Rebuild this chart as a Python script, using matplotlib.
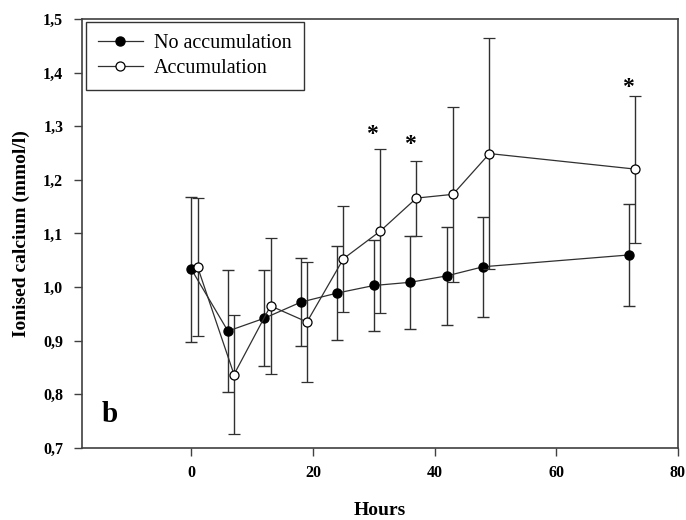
import matplotlib
matplotlib.use("Agg")
import matplotlib.pyplot as plt
from matplotlib.ticker import FuncFormatter

# hours, mean, SD
hours_no = [0, 6, 12, 18, 24, 30, 36, 42, 48, 72]
ca_no = [1.033, 0.918, 0.942, 0.972, 0.989, 1.003, 1.009, 1.021, 1.038, 1.060]
sd_no = [0.135, 0.113, 0.090, 0.082, 0.087, 0.084, 0.087, 0.092, 0.093, 0.095]

hours_acc = [1, 7, 13, 19, 25, 31, 37, 43, 49, 73]
ca_acc = [1.038, 0.837, 0.965, 0.935, 1.053, 1.104, 1.166, 1.173, 1.249, 1.220]
sd_acc = [0.129, 0.111, 0.127, 0.112, 0.099, 0.153, 0.070, 0.163, 0.216, 0.137]

# significance stars
star_x = [29.6, 35.9, 71.8]
star_y = [1.285, 1.266, 1.373]

plt.rcParams["font.family"] = ["Liberation Serif", "DejaVu Serif"]

fig = plt.figure(figsize=(6.86, 5.2), dpi=100)
ax = fig.add_axes([0.1195, 0.1385, 0.8688, 0.825])

lc = "#303030"
ax.errorbar(hours_no, ca_no, yerr=sd_no, color=lc, lw=0.9, elinewidth=1.0,
            capsize=4.3, capthick=1.0, marker="o", ms=6.5, mfc="black",
            mec="black", label="No accumulation", zorder=3)
ax.errorbar(hours_acc, ca_acc, yerr=sd_acc, color=lc, lw=0.9, elinewidth=1.0,
            capsize=4.3, capthick=1.0, marker="o", ms=6.5, mfc="white",
            mec="black", mew=0.9, label="Accumulation", zorder=4)

for sx, sy in zip(star_x, star_y):
    ax.text(sx, sy, "*", ha="center", va="center", fontsize=17, fontweight="bold")

ax.text(-13.5, 0.762, "b", ha="center", va="center", fontsize=21, fontweight="bold")

ax.set_xlim(-18, 80)
ax.set_ylim(0.7, 1.5)
ax.set_xticks([0, 20, 40, 60, 80])
ax.set_yticks([0.7, 0.8, 0.9, 1.0, 1.1, 1.2, 1.3, 1.4, 1.5])
ax.yaxis.set_major_formatter(FuncFormatter(lambda v, p: f"{v:.1f}".replace(".", ",")))
ax.tick_params(direction="out", length=5.5, width=1, color="#404040", labelsize=11.5)
ax.tick_params(axis="x", pad=7)
ax.tick_params(axis="y", pad=8)
for lab in ax.get_xticklabels() + ax.get_yticklabels():
    lab.set_fontweight("bold")
for s in ax.spines.values():
    s.set_linewidth(1.2)
    s.set_color("#404040")

ax.set_xlabel("Hours", fontsize=14, fontweight="bold", labelpad=15)
ax.set_ylabel("Ionised calcium (mmol/l)", fontsize=14, fontweight="bold", labelpad=9)

handles, labels = ax.get_legend_handles_labels()
handles = [h[0] for h in handles]
leg = ax.legend(handles, labels, loc="upper left", bbox_to_anchor=(0.006, 0.993),
                borderaxespad=0, fontsize=14.5, frameon=True, fancybox=False,
                edgecolor="black", handlelength=2.25, borderpad=0.6,
                labelspacing=0.3, handletextpad=0.55)
leg.get_frame().set_linewidth(1.0)

fig.savefig("out.png", dpi=100)
